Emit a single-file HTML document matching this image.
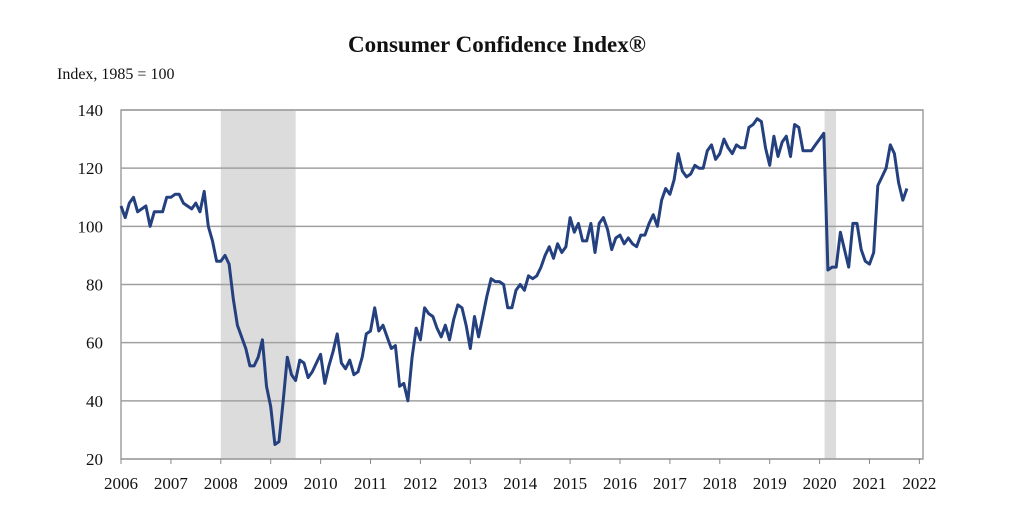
<!DOCTYPE html>
<html><head><meta charset="utf-8"><style>
body{margin:0;background:#fff;width:1024px;height:508px;overflow:hidden}
svg text{font-family:"Liberation Serif",serif;fill:#111}
</style></head><body>
<svg width="1024" height="508">
<text x="497" y="52" text-anchor="middle" font-size="23" font-weight="bold">Consumer Confidence Index®</text>
<text x="57" y="79" font-size="16">Index, 1985 = 100</text>
<g id="rec"></g><g id="grid"></g><g id="ax"></g><g id="line"></g>
</svg>
<script>
const yTicks=[20,40,60,80,100,120,140];
const xYears=[2006,2007,2008,2009,2010,2011,2012,2013,2014,2015,2016,2017,2018,2019,2020,2021,2022];
const recessions=[[2008.0,2009.5],[2020.1,2020.33]];
const values=[
107,103,108,110,105,106,107,100,105,105,105,110,
110,111,111,108,107,106,108,105,112,100,95,88,
88,90,87,75,66,62,58,52,52,55,61,45,
38,25,26,40,55,49,47,54,53,48,50,53,
56,46,52,57,63,53,51,54,49,50,55,63,
64,72,64,66,62,58,59,45,46,40,55,65,
61,72,70,69,65,62,66,61,68,73,72,66,
58,69,62,69,76,82,81,81,80,72,72,78,
80,78,83,82,83,86,90,93,89,94,91,93,
103,98,101,95,95,101,91,101,103,99,92,96,
97,94,96,94,93,97,97,101,104,100,109,113,
111,116,125,119,117,118,121,120,120,126,128,123,
125,130,127,125,128,127,127,134,135,137,136,127,
121,131,124,129,131,124,135,134,126,126,126,128,
130,132,85,86,86,98,92,86,101,101,92,88,
87,91,114,117,120,128,125,115,109,113];
const L=121,R=923,T=110,B=459;
const x=t=>L+(t-2006)*49.9;
const y=v=>B-(v-20)*(B-T)/120;
const NS="http://www.w3.org/2000/svg";
function mk(tag,parent,attrs){const e=document.createElementNS(NS,tag);for(const k in attrs)e.setAttribute(k,attrs[k]);document.getElementById(parent).appendChild(e);return e;}
recessions.forEach(r=>{const e=mk('rect','rec',{x:x(r[0]),y:T,width:x(r[1])-x(r[0]),height:B-T,fill:'#dcdcdc'});

});
yTicks.forEach(v=>{const g=mk('line','grid',{x1:L,x2:R,y1:y(v),y2:y(v),stroke:'#a0a0a0','stroke-width':1.5});


const t=mk('text','ax',{x:L-18,y:y(v)+6,'text-anchor':'end','font-size':17});t.textContent=v;

});
const fr=mk('rect','ax',{x:L,y:T,width:R-L,height:B-T,fill:'none',stroke:'#a0a0a0','stroke-width':1.5});


xYears.forEach(yr=>{const tk=mk('line','ax',{x1:x(yr),x2:x(yr),y1:B,y2:B+5,stroke:'#888'});


const t=mk('text','ax',{x:x(yr),y:489,'text-anchor':'middle','font-size':17});t.textContent=yr;

});
const pts=values.map((v,i)=>x(2006+i/12).toFixed(1)+','+y(v).toFixed(1)).join(' ');
const pl=mk('polyline','line',{points:pts,fill:'none',stroke:'#24407f','stroke-width':3,'stroke-linejoin':'round'});


</script>
</body></html>
